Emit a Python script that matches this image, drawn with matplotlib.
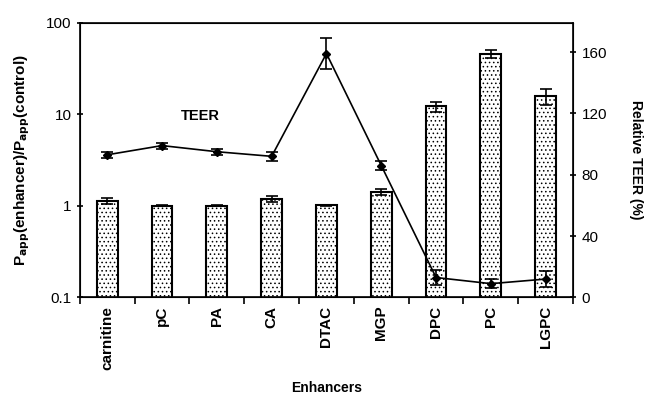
import numpy as np
from matplotlib import pyplot as plt
from matplotlib.ticker import FixedLocator, NullFormatter

plt.rcParams['font.family'] = ['Liberation Sans', 'DejaVu Sans']
plt.rcParams['hatch.color'] = '#a0a0a0'
plt.rcParams['hatch.linewidth'] = 0.6

enhancers = ["carnitine", "pC", "PA", "CA", "DTAC", "MGP", "DPC", "PC", "LGPC"]
papp_ratio = [1.13, 1.01, 1.01, 1.19, 1.02, 1.43, 12.2, 46.0, 15.8]
papp_err = [0.09, 0.01, 0.02, 0.09, 0.01, 0.12, 1.6, 4.5, 3.0]
teer = [93, 99, 95, 92, 159, 86, 13, 9, 12]
teer_err = [2, 2, 2, 3, 10, 3, 5, 3, 5]

x = np.arange(len(enhancers))

fig, ax = plt.subplots(figsize=(6.49, 3.94), dpi=100)
fig.subplots_adjust(left=0.123, right=0.883, top=0.942, bottom=0.245)

ax.bar(x, papp_ratio, width=0.38, color='white', edgecolor='black',
       linewidth=1.5, hatch='....', zorder=2)
ax.errorbar(x, papp_ratio, yerr=papp_err, fmt='none', ecolor='black',
            elinewidth=1.2, capsize=4, capthick=1.2, zorder=3)
ax.set_yscale('log')
ax.set_ylim(0.1, 100)
ax.set_xlim(-0.5, len(enhancers) - 0.5)
ax.set_yticks([0.1, 1, 10, 100])
ax.set_yticklabels(["0.1", "1", "10", "100"], fontsize=11)
ax.yaxis.set_minor_locator(FixedLocator([]))
ax.set_xticks(x)
ax.set_xticklabels(enhancers, rotation=90, fontweight='bold', fontsize=11)
ax.tick_params(axis='x', which='major', length=0, pad=6)
ax.xaxis.set_minor_locator(FixedLocator(np.arange(-0.5, len(enhancers), 1)))
ax.xaxis.set_minor_formatter(NullFormatter())
ax.tick_params(axis='x', which='minor', length=5, width=1.2, direction='out')
ax.tick_params(axis='y', which='major', length=5, width=1.2, direction='inout')
ax.set_ylabel("P$_{\\mathbf{app}}$(enhancer)/P$_{\\mathbf{app}}$(control)",
              fontweight='bold', fontsize=11, labelpad=10)
ax.set_xlabel("Enhancers", fontweight='bold', fontsize=10, labelpad=8)
for s in ax.spines.values():
    s.set_linewidth(1.2)

ax2 = ax.twinx()
ax2.errorbar(x, teer, yerr=teer_err, fmt='-D', color='black', markersize=4.5,
             linewidth=1.2, elinewidth=1.2, capsize=4, capthick=1.2, zorder=4)
ax2.set_ylim(0, 179)
ax2.set_yticks([0, 40, 80, 120, 160])
ax2.tick_params(axis='y', length=5, width=1.2, direction='inout', labelsize=11)
ax2.set_ylabel("Relative TEER (%)", rotation=270, fontweight='bold',
               fontsize=10, labelpad=26)

ax.text(1.7, 9.5, "TEER", fontweight='bold', fontsize=10.5, ha='center', va='center')

plt.savefig("out.png")
